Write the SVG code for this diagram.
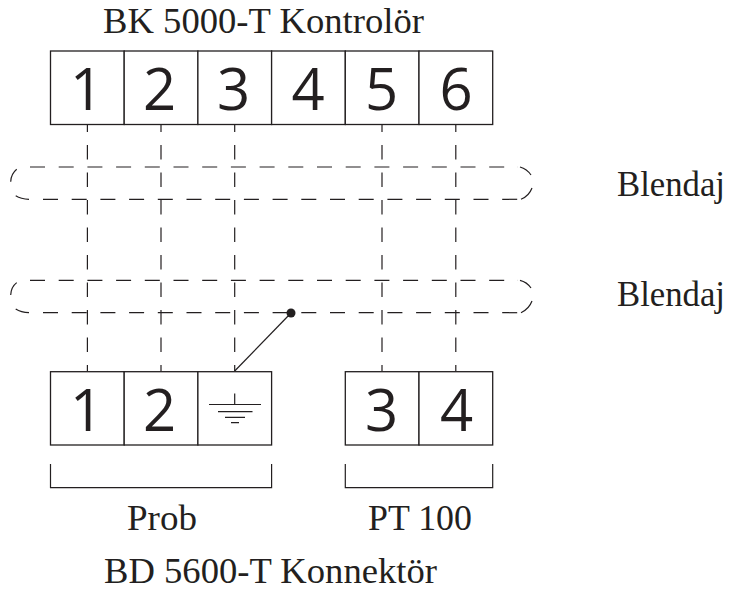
<svg xmlns="http://www.w3.org/2000/svg" width="730" height="592" viewBox="0 0 730 592">
<style>
.b{fill:#fff;stroke:#231f20;stroke-width:1.3}
.n{font-family:"Open Sans",sans-serif;font-size:58px;fill:#231f20;text-anchor:middle}
.t{font-family:"Liberation Serif",serif;font-size:36px;fill:#231f20}
.d{fill:none;stroke:#231f20;stroke-width:1.2;stroke-dasharray:14.6 12.9}
.h{fill:none;stroke:#231f20;stroke-width:1.2;stroke-dasharray:15 13.7}
.l{fill:none;stroke:#231f20;stroke-width:1.2}
</style>
<g id="connectors">
<path class="d" stroke-dashoffset="7" d="M87.4 124.5V371"/>
<path class="d" stroke-dashoffset="7" d="M161 124.5V371"/>
<path class="d" stroke-dashoffset="7" d="M234.7 124.5V371"/>
<path class="d" stroke-dashoffset="7" d="M382 124.5V371"/>
<path class="d" stroke-dashoffset="7" d="M455.8 124.5V371"/>
<path class="l" d="M234.7 371L291 313"/>
<circle cx="291" cy="313" r="4.5" fill="#231f20"/>
</g>
<g id="shield-1">
<path class="h" d="M30 167H518"/><path class="h" d="M43 199.3H518"/>
<path class="l" d="M520 167Q527 169 531 175M532 188Q529 196 521 199.3M16.7 169.3Q11 174 10.7 181.7M15.7 195.7Q21 199 29 199.3"/>
<text class="t" x="617" y="195.5" textLength="108" lengthAdjust="spacingAndGlyphs">Blendaj</text>
</g>
<g id="shield-2">
<path class="h" d="M30 280.3H518"/><path class="h" d="M43 312.7H518"/>
<path class="l" d="M520 280.3Q527 282 531 288M532 301Q529 309 521 312.7M16.7 282.6Q11 287 10.7 295M15.7 309Q21 312.4 29 312.7"/>
<text class="t" x="617" y="306" textLength="108" lengthAdjust="spacingAndGlyphs">Blendaj</text>
</g>
<g id="controller">
<text class="t" x="103" y="33" textLength="321" lengthAdjust="spacingAndGlyphs">BK 5000-T Kontrolör</text>
<rect class="b" x="50.5" y="51" width="73.7" height="73.5"/><text class="n" x="86.5" y="110">1</text>
<rect class="b" x="124.2" y="51" width="73.7" height="73.5"/><text class="n" x="159.5" y="110">2</text>
<rect class="b" x="197.9" y="51" width="73.7" height="73.5"/><text class="n" x="233.5" y="110">3</text>
<rect class="b" x="271.6" y="51" width="73.7" height="73.5"/><text class="n" x="308" y="110">4</text>
<rect class="b" x="345.3" y="51" width="73.7" height="73.5"/><text class="n" x="381.5" y="110">5</text>
<rect class="b" x="419" y="51" width="73.7" height="73.5"/><text class="n" x="456" y="110">6</text>
</g>
<g id="connector-prob">
<rect class="b" x="50.5" y="371.7" width="73.7" height="73.3"/><text class="n" x="86.5" y="431">1</text>
<rect class="b" x="124.2" y="371.7" width="73.7" height="73.3"/><text class="n" x="159.5" y="431">2</text>
<rect class="b" x="197.9" y="371.7" width="73.7" height="73.3"/>
<path class="l" d="M234.7 393.5V404.5M209 404.5H261M218 411.7H252.5M225 417.3H245M231 422.7H239"/>
<path class="l" d="M50.5 464V487.7H271.6V464"/>
<text class="t" x="127" y="530" textLength="70" lengthAdjust="spacingAndGlyphs">Prob</text>
</g>
<g id="connector-pt100">
<rect class="b" x="345.3" y="371.7" width="73.7" height="73.3"/><text class="n" x="381.5" y="431">3</text>
<rect class="b" x="419" y="371.7" width="73.7" height="73.3"/><text class="n" x="456.5" y="431">4</text>
<path class="l" d="M345.3 464V487.7H492.7V464"/>
<text class="t" x="368" y="530" textLength="104" lengthAdjust="spacingAndGlyphs">PT 100</text>
</g>
<text class="t" x="104" y="583.3" textLength="333" lengthAdjust="spacingAndGlyphs">BD 5600-T Konnektör</text>
</svg>
